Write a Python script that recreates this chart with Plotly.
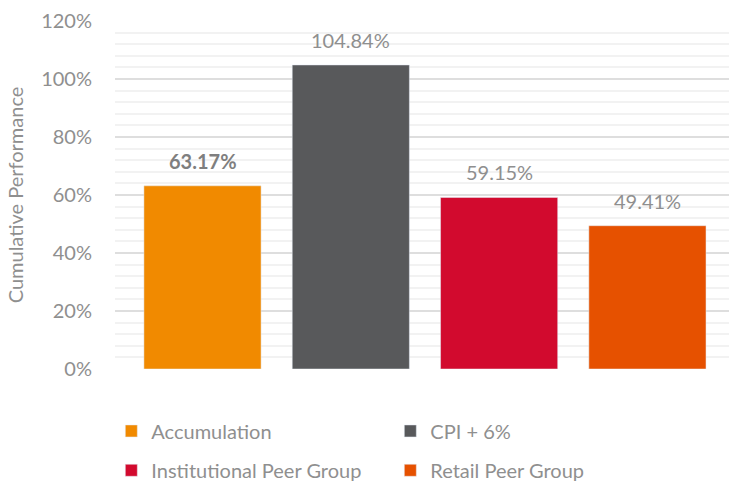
import plotly.graph_objects as go

categories = ["Accumulation", "CPI + 6%", "Institutional Peer Group", "Retail Peer Group"]
values = [63.17, 104.84, 59.15, 49.41]
colors = ["#F18A00", "#58595B", "#D20A2E", "#E65100"]
label_bold = [True, False, False, False]
y_ticks = [0, 20, 40, 60, 80, 100, 120]
y_ticktext = [f"{v}%" for v in y_ticks]

FONT = "Lato, 'Open Sans', sans-serif"
GREY = "#8f8f8f"

fig = go.Figure()
legends = ["legend", "legend", "legend2", "legend2"]
for i, (c, v, col) in enumerate(zip(categories, values, colors)):
    fig.add_trace(go.Bar(
        x=[c], y=[v], name=c, marker_color=col, width=0.79,
        legend=legends[i], hoverinfo="skip",
    ))

for c, v, b in zip(categories, values, label_bold):
    txt = f"{v:.2f}%"
    if b:
        txt = f"<b>{txt}</b>"
    fig.add_annotation(
        x=c, y=v, text=txt, showarrow=False, yshift=25, yanchor="middle",
        font=dict(family=FONT, size=20, color="#7f7f7f" if b else GREY),
    )

fig.update_layout(
    width=729, height=481,
    margin=dict(l=115, r=0, t=21, b=112, autoexpand=False),
    plot_bgcolor="white", paper_bgcolor="white",
    barmode="overlay",
    font=dict(family=FONT, size=20, color=GREY),
    xaxis=dict(
        type="category", range=[-0.59, 3.55], showticklabels=False,
        showgrid=False, zeroline=False, showline=False,
    ),
    yaxis=dict(
        range=[0, 120], tickvals=y_ticks, ticktext=y_ticktext,
        showgrid=True, gridcolor="#dedede", gridwidth=2,
        minor=dict(dtick=4, showgrid=True, gridcolor="#f2f2f2", gridwidth=2),
        zeroline=False, showline=False, ticks="", ticklabelstandoff=22,
        tickfont=dict(family=FONT, size=20, color=GREY),
        title=dict(text="Cumulative Performance", standoff=12,
                   font=dict(family=FONT, size=20, color=GREY)),
    ),
    legend=dict(
        orientation="h", x=-0.006, xanchor="left", y=-0.122, yanchor="top",
        entrywidth=234, entrywidthmode="pixels",
        font=dict(family=FONT, size=20, color=GREY), bgcolor="rgba(0,0,0,0)",
    ),
    legend2=dict(
        orientation="h", x=-0.006, xanchor="left", y=-0.235, yanchor="top",
        entrywidth=234, entrywidthmode="pixels",
        font=dict(family=FONT, size=20, color=GREY), bgcolor="rgba(0,0,0,0)",
    ),
    showlegend=True,
)

fig.write_html("out.html", config={"displayModeBar": False},
               post_script="document.body.style.margin='0';")
